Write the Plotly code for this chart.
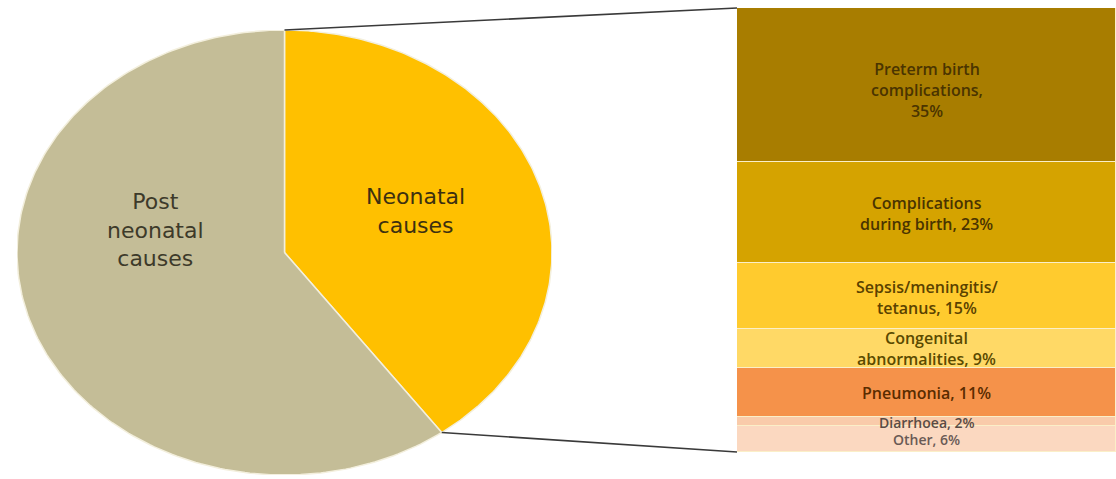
import numpy as np
import plotly.graph_objects as go

# ---------------- data ----------------
pie_labels = ["Neonatal<br>causes", "Post<br>neonatal<br>causes"]
pie_values = [40, 60]

bar_labels = [
    "Preterm birth<br>complications,<br>35%",
    "Complications<br>during birth, 23%",
    "Sepsis/meningitis/<br>tetanus, 15%",
    "Congenital<br>abnormalities, 9%",
    "Pneumonia, 11%",
    "Diarrhoea, 2%",
    "Other, 6%",
]
bar_values = [35, 23, 15, 9, 11, 2, 6]

# ---------------- style ----------------
W, H = 1116, 479
pie_colors = ["#FFC000", "#C4BD97"]
pie_text_colors = ["#3d3010", "#3d3a2a"]
bar_colors = ["#A87D00", "#D5A300", "#FFCB2E", "#FFD966", "#F5924A", "#F9CBAA", "#FBD8C0"]
bar_text_colors = ["#4a3400", "#4a3400", "#5a4200", "#5a4a00", "#5a2c00", "#5a4c45", "#6a5a55"]
bar_font_sizes = [16, 16, 16, 16, 16, 14, 14]
bar_y_nudge = [-1.2, -0.3, -0.3, 0, 0, -0.2, -0.2]

# pie frame (pixels)
pl, pr, pt, pb = 17, 552, 30, 475
# bar frame (pixels)
bl, br, bt, bb = 737, 1116, 8, 452

px = lambda v: v / W
py = lambda v: 1 - v / H

pie_xdom = [px(pl), px(pr)]
pie_ydom = [py(pb), py(pt)]
bar_xdom = [px(bl), px(br)]
bar_ydom = [py(bb), py(bt)]

fig = go.Figure()

# ---------------- elliptical pie drawn on stretched axes ----------------
total = sum(pie_values)
start = 0.0
pie_angles = []
for i, v in enumerate(pie_values):
    a0 = start / total * 2 * np.pi
    a1 = (start + v) / total * 2 * np.pi
    pie_angles.append((a0, a1))
    t = np.linspace(a0, a1, 200)
    xs = np.concatenate([[0], np.sin(t), [0]])
    ys = np.concatenate([[0], np.cos(t), [0]])
    fig.add_trace(go.Scatter(
        x=xs, y=ys, mode="lines", fill="toself",
        fillcolor=pie_colors[i],
        line=dict(color="#F3EFDD", width=1.5),
        hoverinfo="skip", showlegend=False,
        xaxis="x", yaxis="y",
    ))
    start += v

pie_label_pos = [(0.488, 0.185), (-0.484, 0.101)]
for i, lab in enumerate(pie_labels):
    fig.add_annotation(
        x=pie_label_pos[i][0], y=pie_label_pos[i][1], xref="x", yref="y",
        text=lab, showarrow=False,
        font=dict(family="DejaVu Sans", size=22, color=pie_text_colors[i]),
        align="center",
    )

# ---------------- stacked bar ----------------
btotal = sum(bar_values)
order = list(range(len(bar_values)))[::-1]  # bottom segment first
for i in order:
    fig.add_trace(go.Bar(
        x=[0], y=[bar_values[i]], width=1,
        marker=dict(color=bar_colors[i], line=dict(color="#FBEFC8", width=1.2)),
        hoverinfo="skip", showlegend=False,
        xaxis="x2", yaxis="y2",
    ))

cum = np.cumsum(bar_values[::-1])[::-1]  # top of each segment from bottom
for i, lab in enumerate(bar_labels):
    mid = cum[i] - bar_values[i] / 2 + bar_y_nudge[i]
    fig.add_annotation(
        x=0, y=mid, xref="x2", yref="y2", text=lab, showarrow=False,
        font=dict(family="Open Sans", size=bar_font_sizes[i],
                  color=bar_text_colors[i], weight=600),
        align="center",
    )

# ---------------- connector lines ----------------
def pie_point(angle):
    x = np.sin(angle)
    y = np.cos(angle)
    xp = pie_xdom[0] + (x + 1) / 2 * (pie_xdom[1] - pie_xdom[0])
    yp = pie_ydom[0] + (y + 1) / 2 * (pie_ydom[1] - pie_ydom[0])
    return xp, yp

a_top, a_bot = pie_angles[0]
x0, y0 = pie_point(a_top)
fig.add_shape(type="line", xref="paper", yref="paper",
              x0=x0, y0=y0, x1=bar_xdom[0], y1=bar_ydom[1],
              line=dict(color="#3a3a3a", width=1.6))
x0, y0 = pie_point(a_bot)
fig.add_shape(type="line", xref="paper", yref="paper",
              x0=x0, y0=y0, x1=bar_xdom[0], y1=bar_ydom[0],
              line=dict(color="#3a3a3a", width=1.6))

hidden = dict(visible=False, showgrid=False, zeroline=False, fixedrange=True)
fig.update_layout(
    width=W, height=H,
    margin=dict(l=0, r=0, t=0, b=0),
    paper_bgcolor="white", plot_bgcolor="rgba(0,0,0,0)",
    barmode="stack", bargap=0,
    xaxis=dict(domain=pie_xdom, range=[-1.0, 1.0], **hidden),
    yaxis=dict(domain=pie_ydom, range=[-1.0, 1.0], **hidden),
    xaxis2=dict(domain=bar_xdom, range=[-0.5, 0.5], anchor="y2", **hidden),
    yaxis2=dict(domain=bar_ydom, range=[0, btotal], anchor="x2", **hidden),
    showlegend=False,
)

fig.write_html("out.html")
